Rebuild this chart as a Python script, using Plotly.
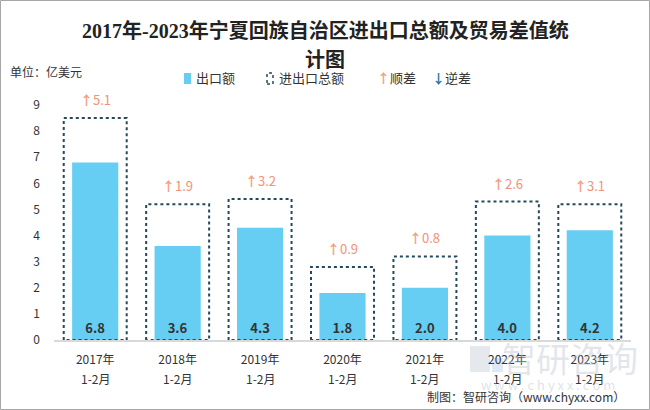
import plotly.graph_objects as go

year_labels = ["2017年", "2018年", "2019年", "2020年", "2021年", "2022年", "2023年"]
period_labels = ["1-2月"] * 7
export_vals = [6.8, 3.6, 4.3, 1.8, 2.0, 4.0, 4.2]
total_vals = [8.5, 5.2, 5.4, 2.8, 3.2, 5.3, 5.2]
surplus_vals = [5.1, 1.9, 3.2, 0.9, 0.8, 2.6, 3.1]
y_ticks = list(range(0, 10))

W, H = 650, 410
L, R, T, B = 54, 19, 105, 70
PW, PH = W - L - R, H - T - B

def px(x):
    return (x - L) / PW

def py(y):
    return (H - B - y) / PH

FONT = "Noto Sans CJK SC, Roboto, sans-serif"
BLUE = "#66CDF3"
DOT = "#24495A"
ORANGE = "#F39179"

xs = list(range(len(year_labels)))
fig = go.Figure()

fig.add_trace(go.Bar(
    x=xs, y=export_vals, width=0.56, marker=dict(color=BLUE, line=dict(width=0)),
    text=[f"{v:.1f}" for v in export_vals], textposition="inside",
    insidetextanchor="start", textangle=0,
    textfont=dict(family=FONT, size=13, color="#333333", weight="bold"),
    showlegend=False, hoverinfo="skip"))

hw = 0.382
for i, t in enumerate(total_vals):
    fig.add_trace(go.Scatter(
        x=[i - hw, i - hw, i + hw, i + hw, i - hw], y=[0, t, t, 0, 0],
        mode="lines", line=dict(color=DOT, width=2, dash="dot"),
        showlegend=False, hoverinfo="skip", cliponaxis=False))

annotations = []
for i, (t, s) in enumerate(zip(total_vals, surplus_vals)):
    annotations.append(dict(x=i, y=t, xref="x", yref="y",
                            text=f"<b style='color:#F4A07E'>↑</b>{s:.1f}",
                            showarrow=False, yanchor="bottom", yshift=7,
                            font=dict(family=FONT, size=13, color=ORANGE)))
# second line of category labels
for i, p in enumerate(period_labels):
    annotations.append(dict(x=i, y=py(378), xref="x", yref="paper", text=p,
                            showarrow=False, xanchor="center", yanchor="middle",
                            font=dict(family=FONT, size=12, color="#333333")))

# title (two lines)
TFONT = dict(family="Liberation Serif, Noto Sans CJK SC, serif", size=20, color="#222222", weight="bold")
annotations.append(dict(x=px(325), y=py(30), xref="paper", yref="paper",
                        text="2017年-2023年宁夏回族自治区进出口总额及贸易差值统",
                        showarrow=False, xanchor="center", yanchor="middle", font=TFONT))
annotations.append(dict(x=px(325), y=py(60), xref="paper", yref="paper", text="计图",
                        showarrow=False, xanchor="center", yanchor="middle", font=TFONT))
# unit
annotations.append(dict(x=px(8), y=py(71), xref="paper", yref="paper", text="单位：亿美元",
                        showarrow=False, xanchor="left", yanchor="middle",
                        font=dict(family=FONT, size=12, color="#333333")))
# legend texts
LF = dict(family=FONT, size=13, color="#333333")
annotations.append(dict(x=px(194), y=py(78), xref="paper", yref="paper", text="出口额",
                        showarrow=False, xanchor="left", yanchor="middle", font=LF))
annotations.append(dict(x=px(277), y=py(78), xref="paper", yref="paper", text="进出口总额",
                        showarrow=False, xanchor="left", yanchor="middle", font=LF))
annotations.append(dict(x=px(375), y=py(77), xref="paper", yref="paper",
                        text="<b style='color:#F4A07E'>↑</b>顺差",
                        showarrow=False, xanchor="left", yanchor="middle", font=LF))
annotations.append(dict(x=px(430), y=py(77), xref="paper", yref="paper",
                        text="<b style='color:#1B75A8'>↓</b>逆差",
                        showarrow=False, xanchor="left", yanchor="middle", font=LF))
# watermark
annotations.append(dict(x=px(570), y=py(357), xref="paper", yref="paper", text="智研咨询",
                        showarrow=False, xanchor="center", yanchor="middle",
                        font=dict(family=FONT, size=34, color="rgba(190,198,210,0.45)")))
annotations.append(dict(x=px(548), y=py(384), xref="paper", yref="paper",
                        text="w w w . c h y x x . c o m",
                        showarrow=False, xanchor="center", yanchor="middle",
                        font=dict(family=FONT, size=13, color="rgba(190,198,210,0.5)")))
# source
annotations.append(dict(x=px(627), y=py(396), xref="paper", yref="paper",
                        text="制图：智研咨询（www.chyxx.com）",
                        showarrow=False, xanchor="right", yanchor="middle",
                        font=dict(family=FONT, size=12, color="#333333")))

shapes = [
    dict(type="rect", xref="paper", yref="paper", x0=px(0.5), x1=px(649.5), y0=py(409.5), y1=py(0.5),
         line=dict(color="#A6A6A6", width=1), layer="below"),
    dict(type="rect", xref="paper", yref="paper", x0=px(184), x1=px(191), y0=py(84), y1=py(73),
         fillcolor=BLUE, line=dict(width=0)),
    dict(type="rect", xref="paper", yref="paper", x0=px(267), x1=px(273), y0=py(84), y1=py(73),
         line=dict(color=DOT, width=1.5, dash="dot")),
    # watermark logo blocks
    dict(type="rect", xref="paper", yref="paper", x0=px(470), x1=px(490), y0=py(372), y1=py(346),
         fillcolor="rgba(190,198,210,0.4)", line=dict(width=0), layer="below"),
    dict(type="rect", xref="paper", yref="paper", x0=px(492), x1=px(503), y0=py(372), y1=py(358),
         fillcolor="rgba(170,200,230,0.4)", line=dict(width=0), layer="below"),
]

fig.update_layout(
    width=W, height=H, margin=dict(l=L, r=R, t=T, b=B),
    paper_bgcolor="white", plot_bgcolor="white",
    barmode="overlay", showlegend=False,
    xaxis=dict(range=[-0.5, 6.5], tickvals=xs, ticktext=year_labels, showgrid=False,
               zeroline=False, showline=True, linecolor="#D9D9D9", linewidth=1.5,
               ticks="", ticklabelstandoff=8,
               tickfont=dict(family=FONT, size=12, color="#333333")),
    yaxis=dict(range=[0, 9], tickvals=y_ticks, showgrid=False, zeroline=False,
               showline=False, ticks="", ticklabelstandoff=13,
               tickfont=dict(family=FONT, size=12, color="#333333")),
    annotations=annotations, shapes=shapes,
)

fig.write_html("out.html", config={"displayModeBar": False},
               post_script="document.body.style.margin='0';document.body.style.overflow='hidden';")
